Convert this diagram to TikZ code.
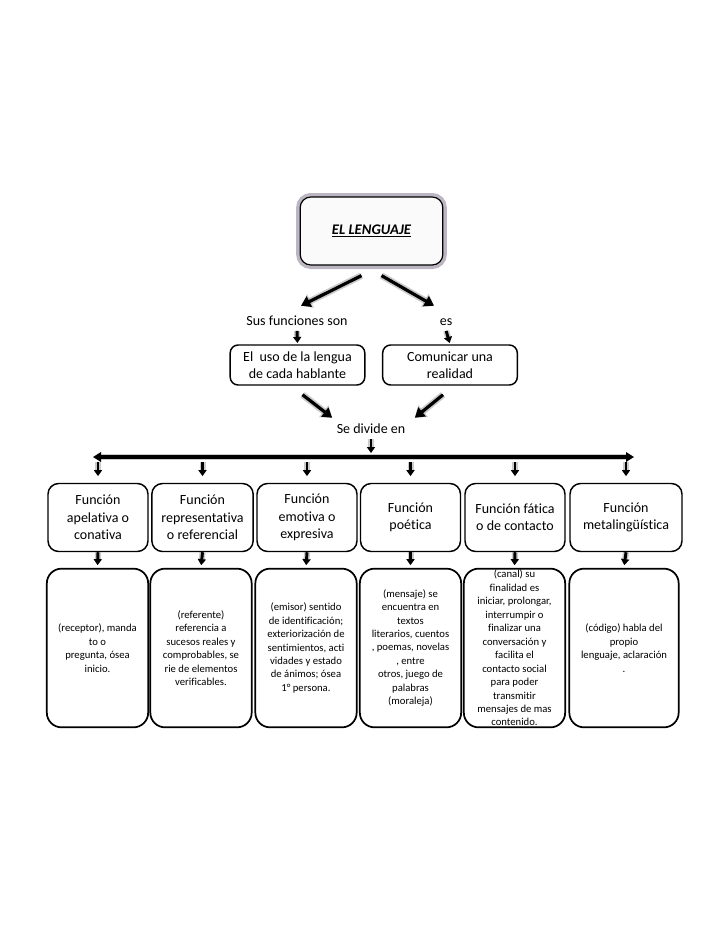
\documentclass[tikz,border=0pt]{standalone}
\usepackage{fontspec}
\setmainfont{Carlito}[Ligatures=NoCommon]
\usetikzlibrary{arrows.meta, positioning, calc}
\definecolor{glowGrey}{HTML}{8C8C8C}
\definecolor{titleGlow}{HTML}{857A92}
\tikzset{
  titlebox/.style  = {draw=black, line width=0.9pt, rounded corners=8pt, fill=black!2,
                      minimum width=107pt, minimum height=51pt, font=\fontsize{11}{13}\selectfont,
                      preaction={draw=titleGlow, line width=6pt, opacity=0.55}},
  midbox/.style    = {draw, line width=1.1pt, rounded corners=6pt, fill=white, align=center,
                      minimum width=101pt, minimum height=30pt, inner sep=1pt,
                      font=\fontsize{10.5}{12.5}\selectfont},
  funcbox/.style   = {draw, line width=1.1pt, rounded corners=8pt, fill=white, align=center,
                      minimum width=75pt, minimum height=51pt, inner sep=1pt,
                      font=\fontsize{10.5}{13}\selectfont},
  descbox/.style   = {draw, line width=1.3pt, rounded corners=11pt, fill=white, align=center,
                      minimum width=76pt, minimum height=119pt, inner sep=1pt,
                      font=\fontsize{8}{10.1}\selectfont},
  lbl/.style       = {font=\fontsize{10.5}{12.5}\selectfont, inner sep=1pt,
                      text height=7.5pt, text depth=2.5pt},
  bigarrow/.style  = {-{Triangle[length=7pt, width=8.5pt]}, line width=2.4pt,
                      preaction={draw=glowGrey, opacity=0.45, line width=5pt,
                                 -{Triangle[length=8pt, width=11pt]}}},
  bararrow/.style  = {{Triangle[length=6pt, width=7pt]}-{Triangle[length=6pt, width=7pt]}, line width=2.4pt,
                      preaction={draw=glowGrey, opacity=0.45, line width=5pt}},
  tickarrow/.style = {-{Triangle[length=4.5pt, width=6pt]}, line width=2.2pt,
                      preaction={draw=glowGrey, opacity=0.45, line width=4.5pt}},
}
\begin{document}
\begin{tikzpicture}[x=0.75pt, y=-0.75pt]
  \useasboundingbox (0,0) rectangle (728,943);

  % top of the map
  \node[titlebox] (lenguaje) at (371.5,231) {\textbf{\textit{\underline{EL LENGUAJE}}}};
  \node[lbl] (sus) at (297,322) {Sus funciones son};
  \node[lbl] (es)  at (446,322) {es};
  \node[midbox] (uso)       at (297.5,365) {El\ \ uso de la lengua\\de cada hablante};
  \node[midbox] (comunicar) at (450,365)   {Comunicar una\\realidad};
  \node[lbl] (divide) at (371,430) {Se divide en};

  \draw[bigarrow] ([shift={(-10,10)}]lenguaje.south) -- ([shift={(4,-8)}]sus.north);
  \draw[bigarrow] ([shift={(10,10)}]lenguaje.south)  -- ([shift={(-12,-8)}]es.north);
  \draw[tickarrow, shorten <=0.5pt, shorten >=1pt] (sus.south) -- (uso.north);
  \draw[tickarrow, shorten <=0.5pt, shorten >=1pt] (es.south)  -- (comunicar.north);
  \draw[bigarrow] ([shift={(5,9)}]uso.south)        -- ([shift={(-3,-4)}]divide.north west);
  \draw[bigarrow] ([shift={(-7,9)}]comunicar.south) -- ([shift={(8,-4)}]divide.north east);

  % the bar
  \coordinate (barL) at (93,457);
  \coordinate (barR) at (634,457);
  \draw[bararrow] (barL) -- (barR);
  \draw[tickarrow, shorten <=0.5pt, shorten >=3pt] (divide.south) -- (divide.south |- barL);

  % functions
  \node[funcbox] (f1) at (98,517.5)  {Función\\apelativa o\\conativa};
  \node[funcbox, minimum width=76pt] (f2) at (202.5,517.5) {Función\\representativa\\o referencial};
  \node[funcbox] (f3) at (307,517.5)  {Función\\emotiva o\\expresiva};
  \node[funcbox] (f4) at (410.5,517.5) {Función\\poética};
  \node[funcbox] (f5) at (515,517.5)  {Función fática\\o de contacto};
  \node[funcbox, minimum width=84pt] (f6) at (626,517.5) {Función\\metalingüística};

  % descriptions
  \node[descbox] (d1) at (97.5,648) {(receptor), manda\\to o\\pregunta, ósea\\inicio.};
  \node[descbox] (d2) at (201,648)  {(referente)\\referencia a\\sucesos reales y\\comprobables, se\\rie de elementos\\verificables.};
  \node[descbox] (d3) at (306,648)  {(emisor) sentido\\de identificación;\\exteriorización de\\sentimientos, acti\\vidades y estado\\de ánimos; ósea\\1° persona.};
  \node[descbox] (d4) at (410.5,648) {(mensaje) se\\encuentra en\\textos\\literarios, cuentos\\, poemas, novelas\\, entre\\otros, juego de\\palabras\\(moraleja)};
  \node[descbox] (d5) at (514.5,648) {(canal) su\\finalidad es\\iniciar, prolongar,\\interrumpir o\\finalizar una\\conversación y\\facilita el\\contacto social\\para poder\\transmitir\\mensajes de mas\\contenido.};
  \node[descbox, minimum width=82pt] (d6) at (624,648) {(código) habla del\\propio\\lenguaje, aclaración\\.};

  \foreach \i in {1,...,6} {
    \draw[tickarrow, shorten <=4pt, shorten >=5pt] (f\i.north |- barL) -- (f\i.north);
    \draw[tickarrow, shorten >=2pt] (f\i.south) -- (d\i.north);
  }
\end{tikzpicture}
\end{document}
